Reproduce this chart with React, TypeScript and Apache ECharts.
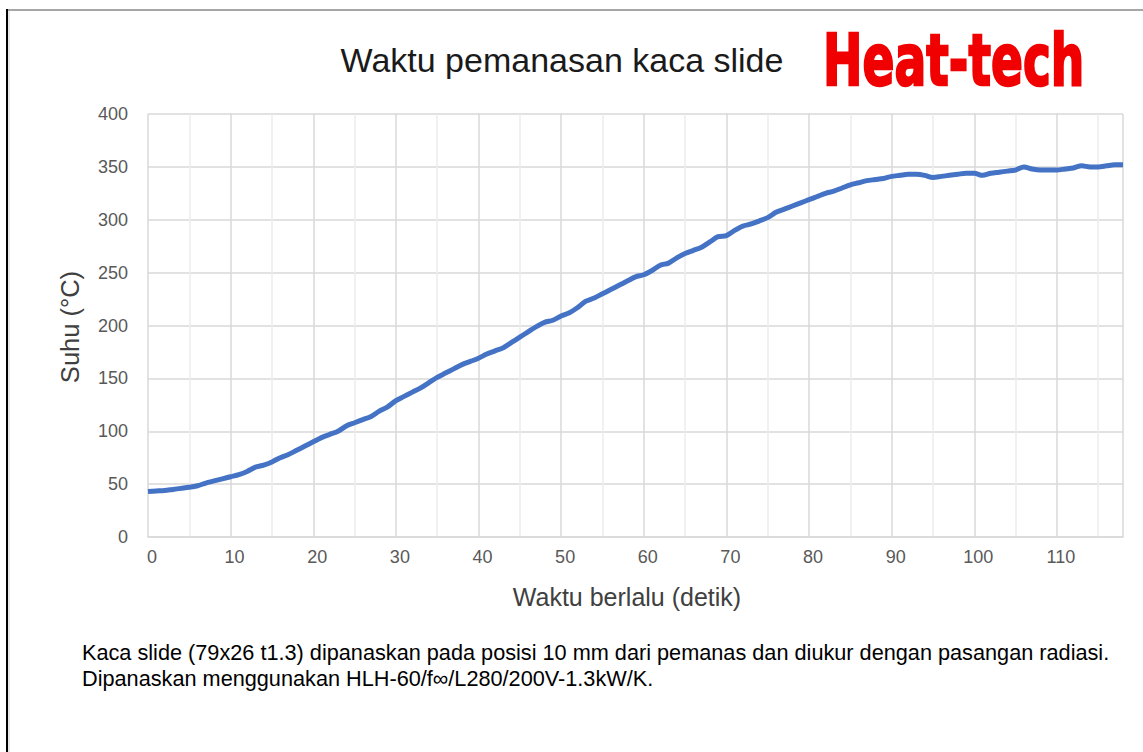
import React, { useEffect, useRef } from "react";
import * as echarts from "echarts";

const timeSeconds = [
  0, 1, 2, 3, 4, 5, 6, 7, 8, 9, 10, 11, 12, 13, 14, 15, 16, 17, 18, 19,
  20, 21, 22, 23, 24, 25, 26, 27, 28, 29, 30, 31, 32, 33, 34, 35, 36, 37, 38, 39,
  40, 41, 42, 43, 44, 45, 46, 47, 48, 49, 50, 51, 52, 53, 54, 55, 56, 57, 58, 59,
  60, 61, 62, 63, 64, 65, 66, 67, 68, 69, 70, 71, 72, 73, 74, 75, 76, 77, 78, 79,
  80, 81, 82, 83, 84, 85, 86, 87, 88, 89, 90, 91, 92, 93, 94, 95, 96, 97, 98, 99,
  100, 101, 102, 103, 104, 105, 106, 107, 108, 109, 110, 111, 112, 113, 114, 115, 116, 117, 118,
];

const temperature = [
  43, 43.5, 44, 45, 46, 47, 48.5, 51, 53, 55, 57, 59, 62, 66, 68, 71, 75, 78, 82, 86,
  90, 94, 97, 100, 105, 108, 111, 114, 119, 123, 129, 133, 137, 141, 146, 151, 155, 159, 163, 166,
  169, 173, 176, 179, 184, 189, 194, 199, 203, 205, 209, 212, 217, 223, 226, 230, 234, 238, 242, 246,
  248, 252, 257, 259, 264, 268, 271, 274, 279, 284, 285, 290, 294, 296, 299, 302, 307, 310, 313, 316,
  319, 322, 325, 327, 330, 333, 335, 337, 338, 339, 341, 342, 343, 343, 342, 340, 341, 342, 343, 344,
  344, 342, 344, 345, 346, 347, 350, 348, 347, 347, 347, 348, 349, 351, 350, 350, 351, 352, 352,
];

const titleText = "Waktu pemanasan kaca slide";
const brandText = "Heat-tech";
const xAxisName = "Waktu berlalu (detik)";
const yAxisName = "Suhu (°C)";
const noteLines = [
  "Kaca slide (79x26 t1.3) dipanaskan pada posisi 10 mm dari pemanas dan diukur dengan pasangan radiasi.",
  "Dipanaskan menggunakan HLH-60/f∞/L280/200V-1.3kW/K.",
];

export default function App() {
  const ref = useRef<HTMLDivElement>(null);

  useEffect(() => {
    if (!ref.current) return;
    const chart = echarts.init(ref.current, undefined, { renderer: "svg" });
    const data = timeSeconds.map((t, i) => [t, temperature[i]]);
    const font = "'Liberation Sans', Arial, sans-serif";

    chart.setOption({
      animation: false,
      backgroundColor: "#ffffff",
      grid: { left: 148, top: 114, right: 20, bottom: 215, containLabel: false },
      xAxis: {
        type: "value",
        min: 0,
        max: 118,
        interval: 5,
        axisLine: { show: true, lineStyle: { color: "#d9d9d9", width: 1.5 } },
        axisTick: { show: false },
        axisLabel: {
          color: "#595959",
          fontFamily: font,
          fontSize: 18,
          margin: 11,
          padding: [0, 0, 0, 8],
          formatter: (v: number) => (v % 10 === 0 ? String(v) : ""),
        },
        splitLine: {
          show: true,
          lineStyle: { color: ["#d9d9d9", "#ededed"], width: 1.5 },
        },
      },
      yAxis: {
        type: "value",
        min: 0,
        max: 400,
        interval: 50,
        axisLine: { show: false },
        axisTick: { show: false },
        axisLabel: { color: "#595959", fontFamily: font, fontSize: 18, margin: 20 },
        splitLine: { show: true, lineStyle: { color: "#d9d9d9", width: 1.5 } },
      },
      series: [
        {
          type: "line",
          data,
          showSymbol: false,
          smooth: 0.3,
          lineStyle: { color: "#4472c4", width: 5 },
          itemStyle: { color: "#4472c4" },
        },
      ],
      graphic: [
        { type: "rect", shape: { x: 6, y: 9, width: 1137, height: 2 }, style: { fill: "#a6a6a6" } },
        { type: "rect", shape: { x: 8, y: 11, width: 2, height: 741 }, style: { fill: "#e8e8e8" } },
        { type: "rect", shape: { x: 6, y: 9, width: 2, height: 743 }, style: { fill: "#000000" } },
        {
          type: "text",
          x: 562,
          y: 60,
          style: {
            text: titleText,
            fontFamily: font,
            fontSize: 34,
            fill: "#1a1a1a",
            align: "center",
            verticalAlign: "middle",
          },
        },
        {
          type: "text",
          x: 823,
          y: 60,
          scaleX: 0.655,
          style: {
            text: brandText,
            fontFamily: "'DejaVu Sans', sans-serif",
            fontWeight: "bold",
            fontSize: 72,
            fill: "#f00000",
            stroke: "#f00000",
            lineWidth: 2.5,
            align: "left",
            verticalAlign: "middle",
          },
        },
        {
          type: "text",
          x: 627,
          y: 597,
          style: {
            text: xAxisName,
            fontFamily: font,
            fontSize: 25,
            fill: "#404040",
            align: "center",
            verticalAlign: "middle",
          },
        },
        {
          type: "text",
          x: 70,
          y: 327,
          rotation: Math.PI / 2,
          style: {
            text: yAxisName,
            fontFamily: font,
            fontSize: 25.5,
            fill: "#404040",
            align: "center",
            verticalAlign: "middle",
          },
        },
        {
          type: "text",
          x: 82,
          y: 652,
          style: {
            text: noteLines[0],
            fontFamily: font,
            fontSize: 21.7,
            fill: "#000000",
            align: "left",
            verticalAlign: "middle",
          },
        },
        {
          type: "text",
          x: 82,
          y: 678,
          style: {
            text: noteLines[1],
            fontFamily: font,
            fontSize: 21.7,
            fill: "#000000",
            align: "left",
            verticalAlign: "middle",
          },
        },
      ],
    });

    return () => chart.dispose();
  }, []);

  return (
    <div
      ref={ref}
      style={{ position: "absolute", left: 0, top: 0, width: 1143, height: 752 }}
    />
  );
}
